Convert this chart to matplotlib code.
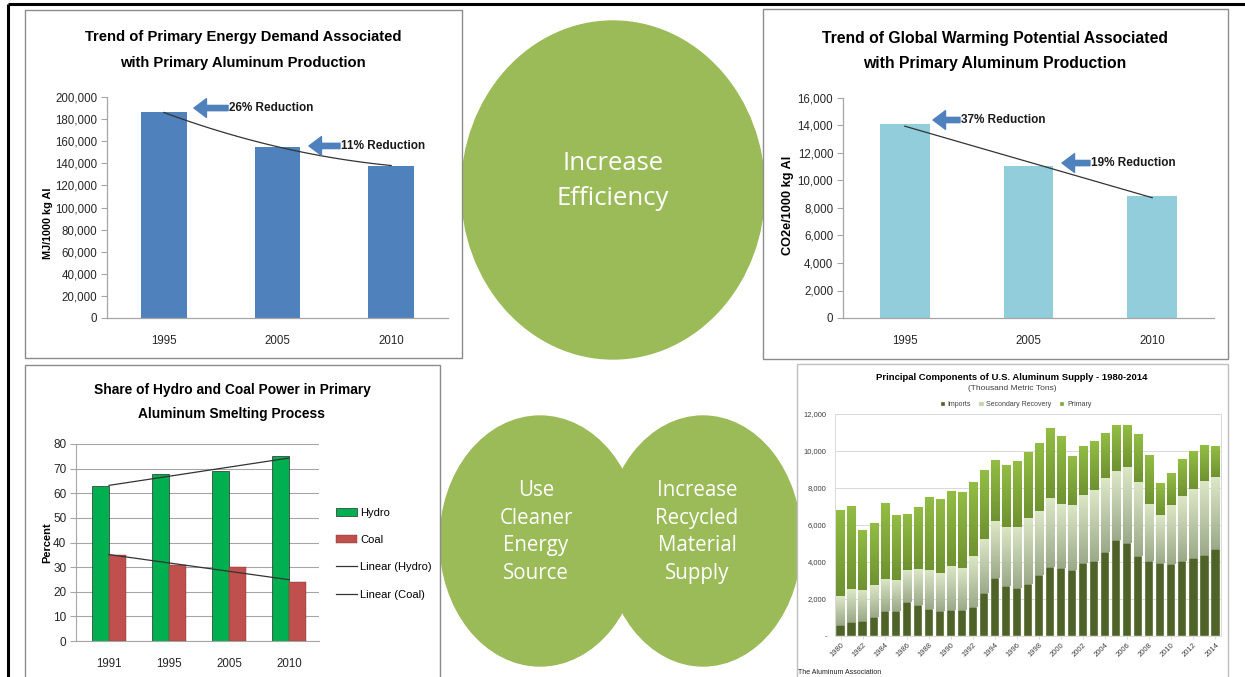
import numpy as np
import matplotlib
matplotlib.use("Agg")
import matplotlib.pyplot as plt
import matplotlib.font_manager as fm
from matplotlib.patches import Ellipse, Rectangle
from matplotlib.colors import to_rgb
from matplotlib.ticker import FuncFormatter

# ---------------- data ----------------
energy_years = ["1995", "2005", "2010"]
energy_values = [186000, 155000, 138000]

gwp_years = ["1995", "2005", "2010"]
gwp_values = [14100, 11050, 8900]

share_years = ["1991", "1995", "2005", "2010"]
hydro_share = [63, 68, 69, 75]
coal_share = [35, 31, 30, 24]

supply_years = list(range(1980, 2015))
imports = [600, 780, 800, 1030, 1370, 1330, 1830, 1700, 1450, 1350,
           1400, 1380, 1560, 2300, 3120, 2700, 2580, 2800, 3300, 3750,
           3700, 3550, 3920, 4050, 4550, 5200, 5030, 4350, 4030, 3970,
           3900, 4070, 4200, 4380, 4720]
secondary = [1550, 1770, 1680, 1720, 1730, 1720, 1750, 1940, 2120, 2030,
             2400, 2270, 2740, 2950, 3080, 3200, 3320, 3570, 3450, 3700,
             3450, 3550, 3680, 3820, 3970, 3720, 4120, 4000, 3090, 2560,
             3200, 3510, 3730, 4000, 3880]
primary = [4650, 4500, 3270, 3350, 4100, 3500, 3040, 3360, 3950, 4020,
           4050, 4130, 4050, 3700, 3300, 3350, 3550, 3580, 3680, 3770,
           3650, 2620, 2650, 2680, 2480, 2460, 2250, 2550, 2650, 1720,
           1720, 1980, 2050, 1940, 1670]

# ---------------- fonts ----------------
names = {f.name for f in fm.fontManager.ttflist}
NARROW = "Liberation Sans Narrow" if "Liberation Sans Narrow" in names else "Liberation Sans"
CIRCLE_FONT = "Open Sans" if "Open Sans" in names else "DejaVu Sans"
plt.rcParams["font.family"] = [NARROW, "DejaVu Sans"]

W, H = 1245, 677
fig = plt.figure(figsize=(W / 100, H / 100), dpi=100)


def px_axes(x0, y0, x1, y1, **kw):
    return fig.add_axes([x0 / W, 1 - y1 / H, (x1 - x0) / W, (y1 - y0) / H], **kw)


GREEN = "#9BBB59"
AXGRAY = "#A6A6A6"
ARROW_BLUE = "#4F81BD"

# background layer (pixel coordinates)
bg = px_axes(0, 0, W, H)
bg.set_xlim(0, W)
bg.set_ylim(H, 0)
bg.axis("off")

bg.add_patch(Ellipse((613, 190), 303, 338, color=GREEN, zorder=1))
bg.add_patch(Ellipse((540, 541), 200, 250, color=GREEN, zorder=1))
bg.add_patch(Ellipse((703, 541), 196, 250, color=GREEN, zorder=1))

bg.add_patch(Rectangle((25, 10), 437, 348, fc="white", ec="#8C8C8C", lw=1.0, zorder=2))
bg.add_patch(Rectangle((763, 9), 465, 350, fc="white", ec="#8C8C8C", lw=1.0, zorder=2))
bg.add_patch(Rectangle((25, 365), 415, 330, fc="white", ec="#8C8C8C", lw=1.0, zorder=2))
bg.add_patch(Rectangle((797, 364), 431, 330, fc="white", ec="#BFBFBF", lw=1.0, zorder=2))

bg.plot([8, W], [4, 4], color="black", lw=2.2, zorder=5, solid_capstyle="butt")
bg.plot([8, 8], [4, H], color="black", lw=2.2, zorder=5, solid_capstyle="butt")

bg.text(613, 181, "Increase\nEfficiency", ha="center", va="center", color="white",
        fontsize=18.5, linespacing=1.5, family=CIRCLE_FONT, zorder=3)
bg.text(536, 532, "Use\nCleaner\nEnergy\nSource", ha="center", va="center", color="white",
        fontsize=14.8, linespacing=1.41, family=CIRCLE_FONT, zorder=3)
bg.text(697, 532, "Increase\nRecycled\nMaterial\nSupply", ha="center", va="center", color="white",
        fontsize=14.8, linespacing=1.41, family=CIRCLE_FONT, zorder=3)

# titles
bg.text(243, 50, "Trend of Primary Energy Demand Associated\nwith Primary Aluminum Production",
        ha="center", va="center", fontsize=10.6, fontweight="bold", linespacing=2.1, zorder=3)
bg.text(995, 51, "Trend of Global Warming Potential Associated\nwith Primary Aluminum Production",
        ha="center", va="center", fontsize=11.3, fontweight="bold", linespacing=1.86, zorder=3)
bg.text(232, 402, "Share of Hydro and Coal Power in Primary\nAluminum Smelting Process",
        ha="center", va="center", fontsize=9.9, fontweight="bold", linespacing=1.84, zorder=3)
bg.text(1012, 377, "Principal Components of U.S. Aluminum Supply - 1980-2014",
        ha="center", va="center", fontsize=6.8, fontweight="bold", zorder=3)
bg.text(1012, 389, "(Thousand Metric Tons)", ha="center", va="center", fontsize=6,
        color="#404040", zorder=3)
bg.text(798, 672, "The Aluminum Association", ha="left", va="center", fontsize=5,
        color="#202020", zorder=3)

comma = FuncFormatter(lambda v, p: f"{int(v):,}")


def style_simple(ax):
    ax.set_facecolor("none")
    for s in ("top", "right"):
        ax.spines[s].set_visible(False)
    for s in ("left", "bottom"):
        ax.spines[s].set_color(AXGRAY)
        ax.spines[s].set_linewidth(0.9)
    ax.tick_params(axis="y", direction="out", length=4, color=AXGRAY, labelsize=8.3, pad=3,
                   labelcolor="#262626")
    ax.tick_params(axis="x", length=0, labelsize=8.3, pad=12, labelcolor="#262626")


def block_arrow(ax, tip, tail, text):
    ax.annotate("", xy=tip, xytext=tail,
                arrowprops=dict(arrowstyle="simple,head_length=0.9,head_width=1.35,tail_width=0.38",
                                color=ARROW_BLUE, shrinkA=0, shrinkB=0, mutation_scale=10))
    ax.text(tail[0] + 0.012, tail[1], text, ha="left", va="center", fontsize=8.5,
            fontweight="bold", color="#1a1a1a")


# ---------------- top-left: energy ----------------
ax1 = px_axes(107, 97, 448, 318)
x1 = np.arange(len(energy_years))
ax1.bar(x1, energy_values, width=0.4, color="#4F81BD", zorder=2)
coef = np.polyfit(x1, energy_values, 2)
xs = np.linspace(0, 2, 60)
ax1.plot(xs, np.polyval(coef, xs), color="#333333", lw=0.9, zorder=3)
ax1.set_xlim(-0.5, 2.5)
ax1.set_ylim(0, 200000)
ax1.set_yticks(np.arange(0, 200001, 20000))
ax1.yaxis.set_major_formatter(comma)
ax1.set_xticks(x1)
ax1.set_xticklabels(energy_years)
style_simple(ax1)
ax1.set_ylabel("MJ/1000 kg Al", fontsize=7.8, fontweight="bold", family="Liberation Sans")
ax1.yaxis.set_label_coords(-0.158, 0.43)
block_arrow(ax1, (0.265, energy_values[0] + 4000), (0.565, energy_values[0] + 4000), "26% Reduction")
block_arrow(ax1, (1.277, energy_values[1] + 700), (1.55, energy_values[1] + 700), "11% Reduction")

# ---------------- top-right: GWP ----------------
ax2 = px_axes(843, 98, 1214, 318)
x2 = np.arange(len(gwp_years))
ax2.bar(x2, gwp_values, width=0.4, color="#92CDDC", zorder=2)
coef2 = np.polyfit(x2, gwp_values, 1)
ax2.plot([0, 2], np.polyval(coef2, [0, 2]), color="#333333", lw=0.9, zorder=3)
ax2.set_xlim(-0.5, 2.5)
ax2.set_ylim(0, 16000)
ax2.set_yticks(np.arange(0, 16001, 2000))
ax2.yaxis.set_major_formatter(comma)
ax2.set_xticks(x2)
ax2.set_xticklabels(gwp_years)
style_simple(ax2)
ax2.set_ylabel("CO2e/1000 kg Al", fontsize=9.2, fontweight="bold", family="Liberation Sans")
ax2.yaxis.set_label_coords(-0.132, 0.51)
block_arrow(ax2, (0.228, gwp_values[0] + 300), (0.446, gwp_values[0] + 300), "37% Reduction")
block_arrow(ax2, (1.271, gwp_values[1] + 220), (1.497, gwp_values[1] + 220), "19% Reduction")

# ---------------- bottom-left: hydro & coal ----------------
ax3 = px_axes(76, 444, 319, 641)
x3 = np.arange(len(share_years))
bw = 0.28
b_h = ax3.bar(x3 - bw / 2, hydro_share, bw, color="#00B050", edgecolor="#2b2b2b", lw=0.5,
              label="Hydro", zorder=2)
b_c = ax3.bar(x3 + bw / 2, coal_share, bw, color="#C0504D", edgecolor="#7a2f2d", lw=0.3,
              label="Coal", zorder=2)
ch = np.polyfit(x3, hydro_share, 1)
cc = np.polyfit(x3, coal_share, 1)
l_h, = ax3.plot([0, 3], np.polyval(ch, [0, 3]), color="#333333", lw=0.9, zorder=3,
                label="Linear (Hydro)")
l_c, = ax3.plot([0, 3], np.polyval(cc, [0, 3]), color="#333333", lw=0.9, zorder=3,
                label="Linear (Coal)")
ax3.set_xlim(-0.55, 3.5)
ax3.set_ylim(0, 80)
ax3.set_yticks(np.arange(0, 81, 10))
ax3.set_xticks(x3)
ax3.set_xticklabels(share_years)
ax3.set_facecolor("none")
ax3.yaxis.grid(True, color=AXGRAY, lw=0.8)
ax3.set_axisbelow(True)
for s in ("top", "right"):
    ax3.spines[s].set_visible(False)
for s in ("left", "bottom"):
    ax3.spines[s].set_color(AXGRAY)
ax3.tick_params(axis="y", direction="out", length=4, color=AXGRAY, labelsize=8.5, pad=3,
                labelcolor="#262626")
ax3.tick_params(axis="x", length=0, labelsize=8.3, pad=12, labelcolor="#262626")
ax3.set_ylabel("Percent", fontsize=8, fontweight="bold", family="Liberation Sans")
ax3.yaxis.set_label_coords(-0.099, 0.5)
ax3.legend(handles=[b_h, b_c, l_h, l_c], loc="upper left",
           bbox_to_anchor=(336 / W, 1 - 508 / H), bbox_transform=fig.transFigure,
           frameon=False, fontsize=8, handlelength=1.9, handleheight=0.75,
           handletextpad=0.25, labelspacing=1.55, borderaxespad=0, borderpad=0)

# ---------------- bottom-right: aluminum supply ----------------
ax4 = px_axes(835, 414, 1221, 636)
x4 = np.arange(len(supply_years))
imp = np.array(imports)
sec = np.array(secondary)
pri = np.array(primary)
bw4 = 0.74
r_imp = ax4.bar(x4, imp, bw4, color="#4F6228", edgecolor="#E8EDE0", lw=0.3,
                label="Imports", zorder=2)
r_sec = ax4.bar(x4, sec, bw4, bottom=imp, color="#C4D3AE", edgecolor="#E8EDE0", lw=0.3,
                label="Secondary Recovery", zorder=2)
r_pri = ax4.bar(x4, pri, bw4, bottom=imp + sec, color="#80A83A", edgecolor="#E8EDE0", lw=0.3,
                label="Primary", zorder=2)


def gradient_fill(ax, rects, c_bottom, c_top):
    cb = np.array(to_rgb(c_bottom))
    ct = np.array(to_rgb(c_top))
    t = np.linspace(0, 1, 64)[:, None, None]
    img = cb[None, None, :] * (1 - t) + ct[None, None, :] * t
    for r in rects:
        x0, y0 = r.get_x(), r.get_y()
        w, h = r.get_width(), r.get_height()
        im = ax.imshow(img, extent=(x0, x0 + w, y0, y0 + h), origin="lower",
                       aspect="auto", zorder=2.1, interpolation="bilinear")
        im.set_clip_path(r)


gradient_fill(ax4, r_sec, "#9CAA8A", "#DCE7C6")
gradient_fill(ax4, r_pri, "#6E9230", "#93BD44")

ax4.set_xlim(-0.5, len(supply_years) - 0.5)
ax4.set_ylim(0, 12000)
ax4.set_aspect("auto")
ax4.set_yticks(np.arange(0, 12001, 2000))
ax4.set_yticklabels(["-"] + [f"{v:,}" for v in range(2000, 12001, 2000)])
ax4.set_xticks(x4[::2])
ax4.set_xticklabels([str(y) for y in supply_years[::2]], rotation=45, ha="right",
                    rotation_mode="anchor")
ax4.yaxis.grid(True, color="#D9D9D9", lw=0.7)
ax4.set_axisbelow(True)
ax4.set_facecolor("none")
for s in ax4.spines.values():
    s.set_color("#D9D9D9")
    s.set_linewidth(0.7)
ax4.tick_params(axis="y", length=0, labelsize=5.5, pad=6, colors="#404040")
ax4.tick_params(axis="x", length=2, color="#D9D9D9", labelsize=5.5, pad=2, labelcolor="#404040")
ax4.legend(handles=[r_imp, r_sec, r_pri], loc="lower center", bbox_to_anchor=(0.469, 1.0),
           ncol=3, frameon=False, fontsize=5, handlelength=0.6, handleheight=0.6,
           handletextpad=0.4, columnspacing=1.2, borderaxespad=0.4, labelcolor="#404040")

fig.savefig("out.png", dpi=100)
